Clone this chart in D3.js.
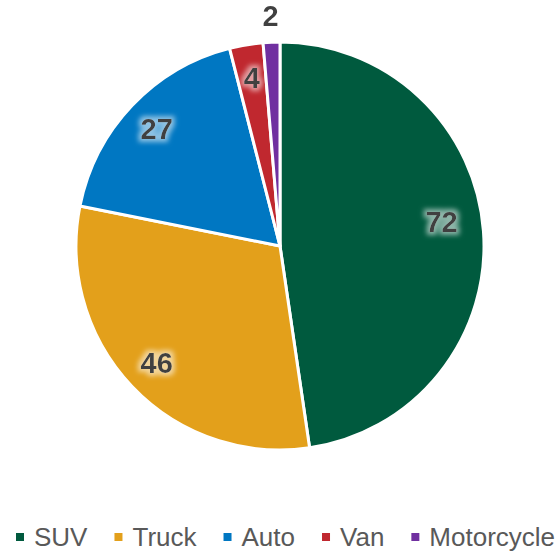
<!DOCTYPE html>
<html><head><meta charset="utf-8">
<script src="https://cdn.jsdelivr.net/npm/d3@7"></script>
<style>body{margin:0;background:#fff}svg{display:block}</style>
</head><body>
<svg id="c" width="556" height="552"></svg>
<script>
const categories = ["SUV", "Truck", "Auto", "Van", "Motorcycle"];
const values = [72, 46, 27, 4, 2];
const colors = ["#005A3E", "#E3A01B", "#0077C2", "#C0282F", "#7030A0"];

const svg = d3.select("#c");
const cx = 280, cy = 246, R = 204;

const defs = svg.append("defs");
const f = defs.append("filter").attr("id", "glow").attr("x", "-30%").attr("y", "-30%").attr("width", "160%").attr("height", "160%");
f.append("feMorphology").attr("in", "SourceAlpha").attr("operator", "dilate").attr("radius", 3).attr("result", "d");
f.append("feGaussianBlur").attr("in", "d").attr("stdDeviation", 2.5).attr("result", "b");
f.append("feFlood").attr("flood-color", "#ffffff").attr("flood-opacity", 0.55);
f.append("feComposite").attr("in2", "b").attr("operator", "in").attr("result", "g");
const m = f.append("feMerge");
m.append("feMergeNode").attr("in", "g");
m.append("feMergeNode").attr("in", "SourceGraphic");

const pie = d3.pie().sort(null).value(d => d)(values);
const arc = d3.arc().innerRadius(0).outerRadius(R);
const g = svg.append("g").attr("transform", `translate(${cx},${cy})`);
g.selectAll("path").data(pie).join("path")
  .attr("d", arc).attr("fill", (d, i) => colors[i])
  .attr("stroke", "#fff").attr("stroke-width", 3).attr("stroke-linejoin", "round");

g.selectAll("text.lbl").data(pie).join("text").attr("class", "lbl")
  .each(function(d) {
    const a = (d.startAngle + d.endAngle) / 2;
    const frac = (d.endAngle - d.startAngle) / (2 * Math.PI);
    const r = frac < 0.02 ? R + 26 : 170;
    let x = Math.sin(a) * r, y = -Math.cos(a) * r;
    if (frac > 0.4) { x -= 8; y -= 12; }
    d3.select(this).attr("x", x).attr("y", y);
  })
  .attr("text-anchor", "middle").attr("dominant-baseline", "central")
  .attr("font-family", "Liberation Sans, Arial, sans-serif").attr("font-weight", "bold")
  .attr("font-size", 29).attr("fill", "#404040").attr("filter", "url(#glow)")
  .text(d => d.value);

// legend
const lg = svg.append("g");
const items = lg.selectAll("g").data(categories).join("g");
items.append("rect").attr("width", 8).attr("height", 8).attr("y", 533).attr("fill", (d, i) => colors[i]);
items.append("text").attr("y", 546).attr("font-family", "Liberation Sans, Arial, sans-serif")
  .attr("font-size", 26).attr("fill", "#595959").text(d => d);
let x = 0;
items.each(function() {
  const t = d3.select(this).select("text");
  const w = t.node().getComputedTextLength();
  d3.select(this).select("rect").attr("x", x);
  t.attr("x", x + 18);
  x += 18 + w + 27;
});
lg.attr("transform", `translate(${16},0)`);
</script>
</body></html>
